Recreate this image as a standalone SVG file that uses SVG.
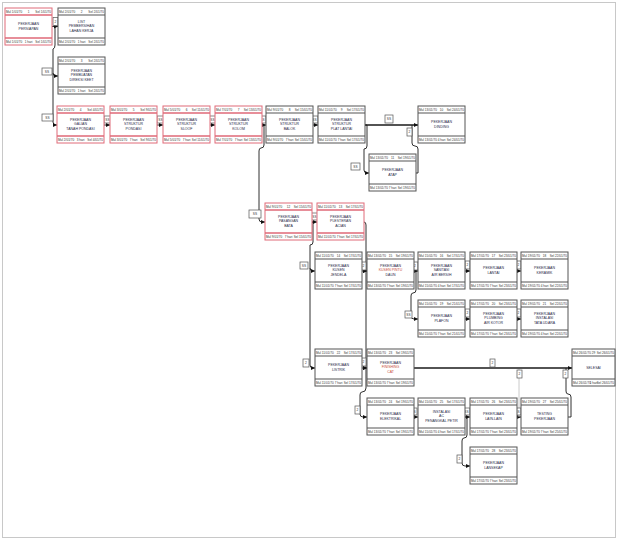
<svg xmlns="http://www.w3.org/2000/svg" width="619" height="541" viewBox="0 0 619 541">
<defs>
<style>
.box{fill:#fff;stroke:#555;stroke-width:1}
.crit .box{stroke:#e06a78}
.sep{fill:none;stroke:#555;stroke-width:1.2}
.crit .sep{stroke:#e06a78;stroke-width:1.4}
.r{font-family:"Liberation Sans",sans-serif;font-size:3.1px;fill:#333}
.m{text-anchor:middle}
.e{text-anchor:end}
.b{font-family:"Liberation Sans",sans-serif;font-size:3.5px;fill:#2a2a48;text-anchor:middle}
.hl{fill:#c8503c}
.lk{fill:none;stroke:#1a1a1a;stroke-width:0.9}
.thick{stroke-width:1.7}
.faint{stroke:#c4c4c4}
.lb rect{fill:#fff;stroke:#555;stroke-width:0.7}
.lb text{font-family:"Liberation Sans",sans-serif;font-size:3.2px;fill:#333;text-anchor:middle}
</style>
<marker id="ah" viewBox="0 0 6 6" refX="6" refY="3" markerWidth="4.5" markerHeight="4.5" markerUnits="userSpaceOnUse" orient="auto"><path d="M0,0L6,3L0,6z" fill="#111"/></marker>
</defs>
<rect x="0" y="0" width="619" height="541" fill="#fff"/>
<rect x="2.5" y="2.5" width="613" height="535" fill="none" stroke="#c8c8c8" stroke-width="1"/>

<g id="connectors">
<path class="lk" marker-end="url(#ah)" d="M52,26.5H58"/>
<path class="lk" marker-end="url(#ah)" d="M55,26.5V45Q55,48.5 53,49V122Q53,125 56,125H57"/>
<path class="lk" marker-end="url(#ah)" d="M53,73Q53,76 56,76H58"/>
<path class="lk" marker-end="url(#ah)" d="M104,125H110"/>
<path class="lk" marker-end="url(#ah)" d="M157,125H163"/>
<path class="lk" marker-end="url(#ah)" d="M210,125H215"/>
<path class="lk" marker-end="url(#ah)" d="M262,125H266"/>
<path class="lk" marker-end="url(#ah)" d="M313,125H318"/>
<path class="lk thick" marker-end="url(#ah)" d="M365,125H418"/>
<path class="lk" marker-end="url(#ah)" d="M365,125H367V146Q367,149 364,149V170Q364,173 367,173H369"/>
<path class="lk" d="M416,173H418V149Q418,146 415,146Q412,146 412,143V125"/>
<path class="lk" marker-end="url(#ah)" d="M262,125H264V145Q264,148 261,148Q259,148 259,151V219Q259,222 262,222H265"/>
<path class="lk" marker-end="url(#ah)" d="M312,222H317"/>
<path class="lk" marker-end="url(#ah)" d="M312,222H313V242Q313,245 310,245V268Q310,271 313,271H315"/>
<path class="lk" marker-end="url(#ah)" d="M310,268V365Q310,368 313,368H315"/>
<path class="lk" marker-end="url(#ah)" d="M364,222Q366,222 366,225V271H367"/>
<path class="lk" marker-end="url(#ah)" d="M362,271H367"/>
<path class="lk" marker-end="url(#ah)" d="M366,271V368H367"/>
<path class="lk" marker-end="url(#ah)" d="M362,368H367"/>
<path class="lk" marker-end="url(#ah)" d="M366,368V388Q366,392 362,392Q360,392 360,395V414Q360,417 363,417H367"/>
<path class="lk" marker-end="url(#ah)" d="M414,271H418"/>
<path class="lk" marker-end="url(#ah)" d="M414,271H416V290Q416,293 413,293Q411,293 411,296V316Q411,319 414,319H418"/>
<path class="lk" marker-end="url(#ah)" d="M465,271H470"/>
<path class="lk" marker-end="url(#ah)" d="M517,271H521"/>
<path class="lk" marker-end="url(#ah)" d="M465,319H470"/>
<path class="lk" marker-end="url(#ah)" d="M517,319H521"/>
<path class="lk thick" marker-end="url(#ah)" d="M414,368H572"/>
<path class="lk" marker-end="url(#ah)" d="M414,417H418"/>
<path class="lk" marker-end="url(#ah)" d="M465,417H470"/>
<path class="lk" marker-end="url(#ah)" d="M517,417H521"/>
<path class="lk faint" d="M519,417V369"/>
<path class="lk" d="M568,417H571V397Q571,394 568,394Q566,394 566,391V368"/>
<path class="lk" marker-end="url(#ah)" d="M465,417H467V435Q467,438 464,438Q462,438 462,441V463Q462,466 465,466H470"/>
<g class="lb">
<rect x="53" y="17.5" width="5" height="8"/><text x="55.5" y="22.7">2</text>
<rect x="42" y="68" width="10" height="7"/><text x="47" y="72.7">SS</text>
<rect x="42" y="114" width="11" height="7"/><text x="47.5" y="118.7">SS</text>
<rect x="104" y="116" width="7" height="7"/><text x="107.5" y="120.7">SS</text>
<rect x="157" y="116" width="7" height="7"/><text x="160.5" y="120.7">SS</text>
<rect x="209" y="116" width="7" height="7"/><text x="212.5" y="120.7">SS</text>
<rect x="259" y="116" width="7" height="7"/><text x="262.5" y="120.7">SS</text>
<rect x="311" y="116" width="7" height="7"/><text x="314.5" y="120.7">SS</text>
<rect x="385" y="115" width="8" height="8"/><text x="389" y="120.2">SS</text>
<rect x="351" y="163" width="9" height="7"/><text x="355.5" y="167.7">SS</text>
<rect x="407" y="128" width="5" height="8"/><text x="409.5" y="133.2">2</text>
<rect x="249" y="210" width="12" height="8"/><text x="255" y="215.2">SS</text>
<rect x="311" y="213" width="7" height="7"/><text x="314.5" y="217.7">SS</text>
<rect x="300" y="262" width="8" height="7"/><text x="304" y="266.7">SS</text>
<rect x="303" y="359" width="6" height="8"/><text x="306" y="364.2">2</text>
<rect x="361" y="262" width="5" height="8"/><text x="363.5" y="267.2">2</text>
<rect x="361" y="358" width="5" height="8"/><text x="363.5" y="363.2">2</text>
<rect x="355" y="406" width="5" height="8"/><text x="357.5" y="411.2">2</text>
<rect x="412" y="262" width="6" height="8"/><text x="415" y="267.2">2</text>
<rect x="405" y="311" width="7" height="7"/><text x="408.5" y="315.7">SS</text>
<rect x="465" y="261" width="5" height="8"/><text x="467.5" y="266.2">2</text>
<rect x="516" y="261" width="5" height="8"/><text x="518.5" y="266.2">2</text>
<rect x="465" y="309" width="5" height="8"/><text x="467.5" y="314.2">2</text>
<rect x="516" y="309" width="5" height="8"/><text x="518.5" y="314.2">2</text>
<rect x="490" y="359" width="5" height="8"/><text x="492.5" y="364.2">2</text>
<rect x="517" y="370" width="5" height="8"/><text x="519.5" y="375.2">2</text>
<rect x="563" y="370" width="5" height="8"/><text x="565.5" y="375.2">2</text>
<rect x="410" y="408" width="7" height="7"/><text x="413.5" y="412.7">SS</text>
<rect x="463" y="408" width="7" height="7"/><text x="466.5" y="412.7">SS</text>
<rect x="514" y="408" width="7" height="7"/><text x="517.5" y="412.7">SS</text>
<rect x="457" y="455" width="5" height="8"/><text x="459.5" y="460.2">2</text>
</g>
</g>

<g id="n1" class="node crit" transform="translate(5,8)"><rect class="box" width="47" height="37"/><path class="sep" d="M0,7H47M0,30H47"/><text class="r" x="1" y="5.2">Mul 1/01/70</text><text class="r m" x="23.5" y="5.2">1</text><text class="r e" x="46" y="5.2">Sel 1/01/70</text><text class="b" x="23.5" y="17.2">PEKERJAAN</text><text class="b" x="23.5" y="21.7">PERSIAPAN</text><text class="r" x="1" y="35.2">Mul 1/01/70</text><text class="r m" x="23.5" y="35.2">1 hari</text><text class="r e" x="46" y="35.2">Sel 1/01/70</text></g>

<g id="n2" class="node" transform="translate(58,8)"><rect class="box" width="47" height="37"/><path class="sep" d="M0,7H47M0,30H47"/><text class="r" x="1" y="5.2">Mul 2/01/70</text><text class="r m" x="23.5" y="5.2">2</text><text class="r e" x="46" y="5.2">Sel 2/01/70</text><text class="b" x="23.5" y="14.7">LIST</text><text class="b" x="23.5" y="19.2">PEMBERSIHAN</text><text class="b" x="23.5" y="23.7">LAHAN KERJA</text><text class="r" x="1" y="35.2">Mul 2/01/70</text><text class="r m" x="23.5" y="35.2">1 hari</text><text class="r e" x="46" y="35.2">Sel 2/01/70</text></g>

<g id="n3" class="node" transform="translate(58,57)"><rect class="box" width="47" height="37"/><path class="sep" d="M0,7H47M0,30H47"/><text class="r" x="1" y="5.2">Mul 2/01/70</text><text class="r m" x="23.5" y="5.2">3</text><text class="r e" x="46" y="5.2">Sel 2/01/70</text><text class="b" x="23.5" y="14.7">PEKERJAAN</text><text class="b" x="23.5" y="19.2">PEMBUATAN</text><text class="b" x="23.5" y="23.7">DIREKSI KEET</text><text class="r" x="1" y="35.2">Mul 2/01/70</text><text class="r m" x="23.5" y="35.2">1 hari</text><text class="r e" x="46" y="35.2">Sel 2/01/70</text></g>

<g id="n4" class="node crit" transform="translate(57,106)"><rect class="box" width="47" height="37"/><path class="sep" d="M0,7H47M0,30H47"/><text class="r" x="1" y="5.2">Mul 2/01/70</text><text class="r m" x="23.5" y="5.2">4</text><text class="r e" x="46" y="5.2">Sel 4/01/70</text><text class="b" x="23.5" y="14.7">PEKERJAAN</text><text class="b" x="23.5" y="19.2">GALIAN</text><text class="b" x="23.5" y="23.7">TANAH PONDASI</text><text class="r" x="1" y="35.2">Mul 2/01/70</text><text class="r m" x="23.5" y="35.2">3 hari</text><text class="r e" x="46" y="35.2">Sel 4/01/70</text></g>

<g id="n5" class="node crit" transform="translate(110,106)"><rect class="box" width="47" height="37"/><path class="sep" d="M0,7H47M0,30H47"/><text class="r" x="1" y="5.2">Mul 3/01/70</text><text class="r m" x="23.5" y="5.2">5</text><text class="r e" x="46" y="5.2">Sel 9/01/70</text><text class="b" x="23.5" y="14.7">PEKERJAAN</text><text class="b" x="23.5" y="19.2">STRUKTUR</text><text class="b" x="23.5" y="23.7">PONDASI</text><text class="r" x="1" y="35.2">Mul 3/01/70</text><text class="r m" x="23.5" y="35.2">7 hari</text><text class="r e" x="46" y="35.2">Sel 9/01/70</text></g>

<g id="n6" class="node crit" transform="translate(163,106)"><rect class="box" width="47" height="37"/><path class="sep" d="M0,7H47M0,30H47"/><text class="r" x="1" y="5.2">Mul 5/01/70</text><text class="r m" x="23.5" y="5.2">6</text><text class="r e" x="46" y="5.2">Sel 11/01/70</text><text class="b" x="23.5" y="14.7">PEKERJAAN</text><text class="b" x="23.5" y="19.2">STRUKTUR</text><text class="b" x="23.5" y="23.7">SLOOF</text><text class="r" x="1" y="35.2">Mul 5/01/70</text><text class="r m" x="23.5" y="35.2">7 hari</text><text class="r e" x="46" y="35.2">Sel 11/01/70</text></g>

<g id="n7" class="node crit" transform="translate(215,106)"><rect class="box" width="47" height="37"/><path class="sep" d="M0,7H47M0,30H47"/><text class="r" x="1" y="5.2">Mul 7/01/70</text><text class="r m" x="23.5" y="5.2">7</text><text class="r e" x="46" y="5.2">Sel 13/01/70</text><text class="b" x="23.5" y="14.7">PEKERJAAN</text><text class="b" x="23.5" y="19.2">STRUKTUR</text><text class="b" x="23.5" y="23.7">KOLOM</text><text class="r" x="1" y="35.2">Mul 7/01/70</text><text class="r m" x="23.5" y="35.2">7 hari</text><text class="r e" x="46" y="35.2">Sel 13/01/70</text></g>

<g id="n8" class="node" transform="translate(266,106)"><rect class="box" width="47" height="37"/><path class="sep" d="M0,7H47M0,30H47"/><text class="r" x="1" y="5.2">Mul 9/01/70</text><text class="r m" x="23.5" y="5.2">8</text><text class="r e" x="46" y="5.2">Sel 15/01/70</text><text class="b" x="23.5" y="14.7">PEKERJAAN</text><text class="b" x="23.5" y="19.2">STRUKTUR</text><text class="b" x="23.5" y="23.7">BALOK</text><text class="r" x="1" y="35.2">Mul 9/01/70</text><text class="r m" x="23.5" y="35.2">7 hari</text><text class="r e" x="46" y="35.2">Sel 15/01/70</text></g>

<g id="n9" class="node" transform="translate(318,106)"><rect class="box" width="47" height="37"/><path class="sep" d="M0,7H47M0,30H47"/><text class="r" x="1" y="5.2">Mul 11/01/70</text><text class="r m" x="23.5" y="5.2">9</text><text class="r e" x="46" y="5.2">Sel 17/01/70</text><text class="b" x="23.5" y="14.7">PEKERJAAN</text><text class="b" x="23.5" y="19.2">STRUKTUR</text><text class="b" x="23.5" y="23.7">PLAT LANTAI</text><text class="r" x="1" y="35.2">Mul 11/01/70</text><text class="r m" x="23.5" y="35.2">7 hari</text><text class="r e" x="46" y="35.2">Sel 17/01/70</text></g>

<g id="n10" class="node" transform="translate(418,106)"><rect class="box" width="47" height="37"/><path class="sep" d="M0,7H47M0,30H47"/><text class="r" x="1" y="5.2">Mul 13/01/70</text><text class="r m" x="23.5" y="5.2">10</text><text class="r e" x="46" y="5.2">Sel 24/01/70</text><text class="b" x="23.5" y="17.2">PEKERJAAN</text><text class="b" x="23.5" y="21.7">DINDING</text><text class="r" x="1" y="35.2">Mul 13/01/70</text><text class="r m" x="23.5" y="35.2">4 hari</text><text class="r e" x="46" y="35.2">Sel 24/01/70</text></g>

<g id="n11" class="node" transform="translate(369,154)"><rect class="box" width="47" height="37"/><path class="sep" d="M0,7H47M0,30H47"/><text class="r" x="1" y="5.2">Mul 13/01/70</text><text class="r m" x="23.5" y="5.2">11</text><text class="r e" x="46" y="5.2">Sel 19/01/70</text><text class="b" x="23.5" y="17.2">PEKERJAAN</text><text class="b" x="23.5" y="21.7">ATAP</text><text class="r" x="1" y="35.2">Mul 13/01/70</text><text class="r m" x="23.5" y="35.2">7 hari</text><text class="r e" x="46" y="35.2">Sel 19/01/70</text></g>

<g id="n12" class="node crit" transform="translate(265,203)"><rect class="box" width="47" height="37"/><path class="sep" d="M0,7H47M0,30H47"/><text class="r" x="1" y="5.2">Mul 9/01/70</text><text class="r m" x="23.5" y="5.2">12</text><text class="r e" x="46" y="5.2">Sel 15/01/70</text><text class="b" x="23.5" y="14.7">PEKERJAAN</text><text class="b" x="23.5" y="19.2">PASANGAN</text><text class="b" x="23.5" y="23.7">BATA</text><text class="r" x="1" y="35.2">Mul 9/01/70</text><text class="r m" x="23.5" y="35.2">7 hari</text><text class="r e" x="46" y="35.2">Sel 15/01/70</text></g>

<g id="n13" class="node crit" transform="translate(317,203)"><rect class="box" width="47" height="37"/><path class="sep" d="M0,7H47M0,30H47"/><text class="r" x="1" y="5.2">Mul 11/01/70</text><text class="r m" x="23.5" y="5.2">13</text><text class="r e" x="46" y="5.2">Sel 17/01/70</text><text class="b" x="23.5" y="14.7">PEKERJAAN</text><text class="b" x="23.5" y="19.2">PLESTERAN</text><text class="b" x="23.5" y="23.7">ACIAN</text><text class="r" x="1" y="35.2">Mul 11/01/70</text><text class="r m" x="23.5" y="35.2">7 hari</text><text class="r e" x="46" y="35.2">Sel 17/01/70</text></g>

<g id="n14" class="node" transform="translate(315,252)"><rect class="box" width="47" height="37"/><path class="sep" d="M0,7H47M0,30H47"/><text class="r" x="1" y="5.2">Mul 11/01/70</text><text class="r m" x="23.5" y="5.2">14</text><text class="r e" x="46" y="5.2">Sel 17/01/70</text><text class="b" x="23.5" y="14.7">PEKERJAAN</text><text class="b" x="23.5" y="19.2">KUSEN</text><text class="b" x="23.5" y="23.7">JENDELA</text><text class="r" x="1" y="35.2">Mul 11/01/70</text><text class="r m" x="23.5" y="35.2">7 hari</text><text class="r e" x="46" y="35.2">Sel 17/01/70</text></g>

<g id="n15" class="node" transform="translate(367,252)"><rect class="box" width="47" height="37"/><path class="sep" d="M0,7H47M0,30H47"/><text class="r" x="1" y="5.2">Mul 13/01/70</text><text class="r m" x="23.5" y="5.2">15</text><text class="r e" x="46" y="5.2">Sel 19/01/70</text><text class="b" x="23.5" y="14.7">PEKERJAAN</text><text class="b hl" x="23.5" y="19.2">KUSEN PINTU</text><text class="b" x="23.5" y="23.7">DAUN</text><text class="r" x="1" y="35.2">Mul 13/01/70</text><text class="r m" x="23.5" y="35.2">7 hari</text><text class="r e" x="46" y="35.2">Sel 19/01/70</text></g>

<g id="n16" class="node" transform="translate(418,252)"><rect class="box" width="47" height="37"/><path class="sep" d="M0,7H47M0,30H47"/><text class="r" x="1" y="5.2">Mul 15/01/70</text><text class="r m" x="23.5" y="5.2">16</text><text class="r e" x="46" y="5.2">Sel 17/01/70</text><text class="b" x="23.5" y="14.7">PEKERJAAN</text><text class="b" x="23.5" y="19.2">SANITASI</text><text class="b" x="23.5" y="23.7">AIR BERSIH</text><text class="r" x="1" y="35.2">Mul 15/01/70</text><text class="r m" x="23.5" y="35.2">4 hari</text><text class="r e" x="46" y="35.2">Sel 17/01/70</text></g>

<g id="n17" class="node" transform="translate(470,252)"><rect class="box" width="47" height="37"/><path class="sep" d="M0,7H47M0,30H47"/><text class="r" x="1" y="5.2">Mul 17/01/70</text><text class="r m" x="23.5" y="5.2">17</text><text class="r e" x="46" y="5.2">Sel 23/01/70</text><text class="b" x="23.5" y="17.2">PEKERJAAN</text><text class="b" x="23.5" y="21.7">LANTAI</text><text class="r" x="1" y="35.2">Mul 17/01/70</text><text class="r m" x="23.5" y="35.2">7 hari</text><text class="r e" x="46" y="35.2">Sel 23/01/70</text></g>

<g id="n18" class="node" transform="translate(521,252)"><rect class="box" width="47" height="37"/><path class="sep" d="M0,7H47M0,30H47"/><text class="r" x="1" y="5.2">Mul 19/01/70</text><text class="r m" x="23.5" y="5.2">18</text><text class="r e" x="46" y="5.2">Sel 22/01/70</text><text class="b" x="23.5" y="17.2">PEKERJAAN</text><text class="b" x="23.5" y="21.7">KERAMIK</text><text class="r" x="1" y="35.2">Mul 19/01/70</text><text class="r m" x="23.5" y="35.2">4 hari</text><text class="r e" x="46" y="35.2">Sel 22/01/70</text></g>

<g id="n19" class="node" transform="translate(418,300)"><rect class="box" width="47" height="37"/><path class="sep" d="M0,7H47M0,30H47"/><text class="r" x="1" y="5.2">Mul 15/01/70</text><text class="r m" x="23.5" y="5.2">19</text><text class="r e" x="46" y="5.2">Sel 21/01/70</text><text class="b" x="23.5" y="17.2">PEKERJAAN</text><text class="b" x="23.5" y="21.7">PLAFON</text><text class="r" x="1" y="35.2">Mul 15/01/70</text><text class="r m" x="23.5" y="35.2">7 hari</text><text class="r e" x="46" y="35.2">Sel 21/01/70</text></g>

<g id="n20" class="node" transform="translate(470,300)"><rect class="box" width="47" height="37"/><path class="sep" d="M0,7H47M0,30H47"/><text class="r" x="1" y="5.2">Mul 17/01/70</text><text class="r m" x="23.5" y="5.2">20</text><text class="r e" x="46" y="5.2">Sel 23/01/70</text><text class="b" x="23.5" y="14.7">PEKERJAAN</text><text class="b" x="23.5" y="19.2">PLUMBING</text><text class="b" x="23.5" y="23.7">AIR KOTOR</text><text class="r" x="1" y="35.2">Mul 17/01/70</text><text class="r m" x="23.5" y="35.2">7 hari</text><text class="r e" x="46" y="35.2">Sel 23/01/70</text></g>

<g id="n21" class="node" transform="translate(521,300)"><rect class="box" width="47" height="37"/><path class="sep" d="M0,7H47M0,30H47"/><text class="r" x="1" y="5.2">Mul 19/01/70</text><text class="r m" x="23.5" y="5.2">21</text><text class="r e" x="46" y="5.2">Sel 22/01/70</text><text class="b" x="23.5" y="14.7">PEKERJAAN</text><text class="b" x="23.5" y="19.2">INSTALASI</text><text class="b" x="23.5" y="23.7">TATA UDARA</text><text class="r" x="1" y="35.2">Mul 19/01/70</text><text class="r m" x="23.5" y="35.2">4 hari</text><text class="r e" x="46" y="35.2">Sel 22/01/70</text></g>

<g id="n22" class="node" transform="translate(315,349)"><rect class="box" width="47" height="37"/><path class="sep" d="M0,7H47M0,30H47"/><text class="r" x="1" y="5.2">Mul 11/01/70</text><text class="r m" x="23.5" y="5.2">22</text><text class="r e" x="46" y="5.2">Sel 17/01/70</text><text class="b" x="23.5" y="17.2">PEKERJAAN</text><text class="b" x="23.5" y="21.7">LISTRIK</text><text class="r" x="1" y="35.2">Mul 11/01/70</text><text class="r m" x="23.5" y="35.2">7 hari</text><text class="r e" x="46" y="35.2">Sel 17/01/70</text></g>

<g id="n23" class="node" transform="translate(367,349)"><rect class="box" width="47" height="37"/><path class="sep" d="M0,7H47M0,30H47"/><text class="r" x="1" y="5.2">Mul 13/01/70</text><text class="r m" x="23.5" y="5.2">23</text><text class="r e" x="46" y="5.2">Sel 19/01/70</text><text class="b" x="23.5" y="14.7">PEKERJAAN</text><text class="b hl" x="23.5" y="19.2">FINISHING</text><text class="b hl" x="23.5" y="23.7">CAT</text><text class="r" x="1" y="35.2">Mul 13/01/70</text><text class="r m" x="23.5" y="35.2">7 hari</text><text class="r e" x="46" y="35.2">Sel 19/01/70</text></g>

<g id="n24" class="node" transform="translate(572,349)"><rect class="box" width="43" height="37"/><path class="sep" d="M0,7H43M0,30H43"/><text class="r" x="1" y="5.2">Mul 26/01/70</text><text class="r m" x="21.5" y="5.2">29</text><text class="r e" x="42" y="5.2">Sel 26/01/70</text><text class="b" x="21.5" y="19.7">SELESAI</text><text class="r" x="1" y="35.2">Mul 26/01/70</text><text class="r m" x="21.5" y="35.2">1 hari</text><text class="r e" x="42" y="35.2">Sel 26/01/70</text></g>

<g id="n25" class="node" transform="translate(367,398)"><rect class="box" width="47" height="37"/><path class="sep" d="M0,7H47M0,30H47"/><text class="r" x="1" y="5.2">Mul 13/01/70</text><text class="r m" x="23.5" y="5.2">24</text><text class="r e" x="46" y="5.2">Sel 19/01/70</text><text class="b" x="23.5" y="17.2">PEKERJAAN</text><text class="b" x="23.5" y="21.7">ELEKTRIKAL</text><text class="r" x="1" y="35.2">Mul 13/01/70</text><text class="r m" x="23.5" y="35.2">7 hari</text><text class="r e" x="46" y="35.2">Sel 19/01/70</text></g>

<g id="n26" class="node" transform="translate(418,398)"><rect class="box" width="47" height="37"/><path class="sep" d="M0,7H47M0,30H47"/><text class="r" x="1" y="5.2">Mul 15/01/70</text><text class="r m" x="23.5" y="5.2">25</text><text class="r e" x="46" y="5.2">Sel 17/01/70</text><text class="b" x="23.5" y="14.7">INSTALASI</text><text class="b" x="23.5" y="19.2">AC</text><text class="b" x="23.5" y="23.7">PENANGKAL PETIR</text><text class="r" x="1" y="35.2">Mul 15/01/70</text><text class="r m" x="23.5" y="35.2">4 hari</text><text class="r e" x="46" y="35.2">Sel 17/01/70</text></g>

<g id="n27" class="node" transform="translate(470,398)"><rect class="box" width="47" height="37"/><path class="sep" d="M0,7H47M0,30H47"/><text class="r" x="1" y="5.2">Mul 17/01/70</text><text class="r m" x="23.5" y="5.2">26</text><text class="r e" x="46" y="5.2">Sel 23/01/70</text><text class="b" x="23.5" y="17.2">PEKERJAAN</text><text class="b" x="23.5" y="21.7">LAIN-LAIN</text><text class="r" x="1" y="35.2">Mul 17/01/70</text><text class="r m" x="23.5" y="35.2">7 hari</text><text class="r e" x="46" y="35.2">Sel 23/01/70</text></g>

<g id="n28" class="node" transform="translate(521,398)"><rect class="box" width="47" height="37"/><path class="sep" d="M0,7H47M0,30H47"/><text class="r" x="1" y="5.2">Mul 19/01/70</text><text class="r m" x="23.5" y="5.2">27</text><text class="r e" x="46" y="5.2">Sel 25/01/70</text><text class="b" x="23.5" y="17.2">TESTING</text><text class="b" x="23.5" y="21.7">PEKERJAAN</text><text class="r" x="1" y="35.2">Mul 19/01/70</text><text class="r m" x="23.5" y="35.2">7 hari</text><text class="r e" x="46" y="35.2">Sel 25/01/70</text></g>

<g id="n29" class="node" transform="translate(470,447)"><rect class="box" width="47" height="37"/><path class="sep" d="M0,7H47M0,30H47"/><text class="r" x="1" y="5.2">Mul 17/01/70</text><text class="r m" x="23.5" y="5.2">28</text><text class="r e" x="46" y="5.2">Sel 23/01/70</text><text class="b" x="23.5" y="17.2">PEKERJAAN</text><text class="b" x="23.5" y="21.7">LANSEKAP</text><text class="r" x="1" y="35.2">Mul 17/01/70</text><text class="r m" x="23.5" y="35.2">7 hari</text><text class="r e" x="46" y="35.2">Sel 23/01/70</text></g>
</svg>
